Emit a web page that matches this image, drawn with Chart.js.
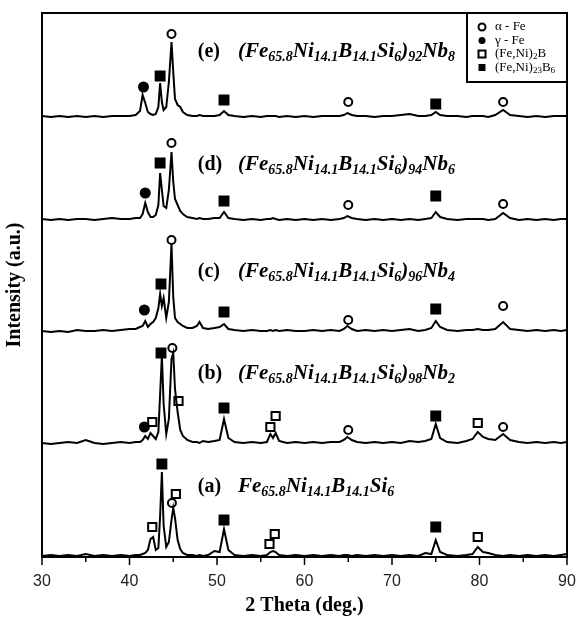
<!DOCTYPE html>
<html>
<head>
<meta charset="utf-8">
<script src="https://cdn.jsdelivr.net/npm/chart.js@4"></script>
<style>
  html, body { margin: 0; background: #fff; }
  #wrap { width: 577px; height: 621px; }
</style>
</head>
<body>
<div id="wrap"><canvas id="xrdChart"></canvas></div>
<script>
// XRD patterns, intensities in arbitrary units above each trace's own baseline
const twoTheta = [30, 31, 32, 33, 34, 35, 36, 37, 38, 39,
  40, 40.7, 41.2, 41.5, 41.8, 42.1, 42.4, 42.7, 43.0, 43.3,
  43.5, 43.7, 43.9, 44.2, 44.5, 44.8, 45.0, 45.2, 45.5, 45.8,
  46.1, 46.6, 47.2, 47.7, 48.0, 48.4, 49.0, 49.7, 50.3, 50.8,
  51.3, 52, 53, 54, 55, 55.7, 56.1, 56.4, 56.7, 57.1,
  58, 59, 60, 61, 62, 63, 64, 64.5, 64.9, 65.4,
  66, 67, 68, 69, 70, 71, 72, 73, 73.8, 74.5,
  75, 75.5, 76.3, 77.5, 78.5, 79.2, 79.8, 80.4, 81, 81.8,
  82.7, 83.5, 84.5, 85.5, 86.5, 87.5, 88.5, 89.3, 90];

const traceA = [0, 1, 0, 1, 0, 2, 0, 1, 0, 1,
  0, 1, 1, 2, 3, 6, 17, 19, 6, 8,
  40, 84, 30, 9, 14, 36, 48, 38, 16, 7,
  3, 1, 1, 0, 1, 0, 1, 5, 4, 27,
  6, 1, 0, 1, 0, 1, 4, 5, 4, 1,
  0, 1, 0, 1, 0, 1, 0, 1, 1, 0,
  1, 0, 1, 0, 1, 0, 1, 0, 3, 2,
  16, 4, 1, 0, 1, 2, 9, 4, 3, 1,
  0, 1, 0, 1, 0, 1, 0, 1, 2];

const traceB = [1, 0, 1, 2, 1, 4, 1, 0, 1, 2,
  1, 2, 2, 4, 8, 5, 11, 8, 5, 12,
  50, 88, 40, 10, 25, 85, 91, 55, 32, 14,
  8, 4, 2, 2, 1, 3, 2, 3, 4, 25,
  6, 2, 1, 2, 1, 2, 10, 6, 11, 3,
  1, 2, 1, 2, 1, 2, 2, 4, 7, 4,
  2, 1, 2, 1, 2, 1, 3, 2, 3, 5,
  20, 6, 2, 1, 3, 5, 12, 7, 5, 4,
  10, 4, 2, 1, 2, 1, 2, 1, 2];

const traceC = [1, 0, 1, 0, 2, 1, 1, 2, 1, 2,
  3, 3, 5, 6, 11, 5, 8, 10, 14, 24,
  38, 26, 34, 14, 30, 88, 35, 14, 10, 8,
  6, 4, 4, 6, 10, 4, 3, 4, 5, 8,
  3, 2, 1, 2, 1, 1, 2, 1, 2, 1,
  2, 1, 1, 2, 1, 2, 1, 3, 6, 3,
  1, 2, 1, 2, 1, 2, 3, 1, 2, 4,
  11, 5, 2, 1, 2, 2, 3, 2, 2, 3,
  10, 3, 2, 1, 2, 1, 2, 1, 2];

const traceD = [1, 0, 1, 0, 1, 1, 0, 1, 2, 1,
  1, 2, 2, 6, 17, 8, 3, 3, 5, 15,
  47, 30, 14, 12, 30, 68, 38, 21, 15, 9,
  6, 3, 2, 1, 2, 1, 1, 2, 2, 8,
  2, 1, 0, 1, 0, 1, 1, 2, 1, 0,
  1, 0, 1, 0, 1, 0, 1, 2, 4, 2,
  1, 0, 1, 0, 1, 0, 1, 0, 1, 2,
  8, 3, 1, 0, 1, 1, 1, 1, 0, 1,
  7, 2, 0, 1, 0, 1, 0, 1, 1];

const traceE = [1, 0, 1, 0, 1, 0, 1, 0, 1, 1,
  1, 2, 6, 22, 14, 5, 3, 2, 3, 10,
  34, 15, 7, 10, 35, 75, 45, 18, 12, 10,
  5, 2, 1, 1, 2, 1, 1, 1, 2, 6,
  2, 1, 0, 1, 0, 1, 1, 1, 1, 0,
  1, 0, 1, 0, 1, 1, 1, 2, 4, 2,
  1, 1, 0, 1, 1, 2, 3, 1, 1, 2,
  5, 2, 1, 1, 0, 1, 1, 1, 0, 2,
  7, 2, 1, 0, 1, 0, 1, 1, 1];

// vertical stacking offsets for (a)..(e)
const baseOffsets = [1, 113, 225, 337, 440];

// phase markers [2theta, intensity]
const alphaFe = [[44.8, 523], [65, 455], [82.7, 455], [44.8, 414], [65, 352], [82.7, 353],
  [44.8, 317], [65, 237], [82.7, 251], [44.9, 209], [65, 127], [82.7, 130], [44.85, 54]];
const gammaFe = [[41.6, 470], [41.8, 364], [41.7, 247], [41.7, 130]];
const boride2 = [[42.6, 135], [45.6, 156], [56.1, 130], [56.7, 141], [79.8, 134],
  [42.6, 30], [45.3, 63], [56.0, 13], [56.6, 23], [79.8, 20]];
const boride23 = [[43.5, 481], [50.8, 457], [75, 453], [43.5, 394], [50.8, 356], [75, 361],
  [43.6, 273], [50.8, 245], [75, 248], [43.6, 204], [50.8, 149], [75, 141],
  [43.7, 93], [50.8, 37], [75, 30]];

const sampleTags = ['(a)', '(b)', '(c)', '(d)', '(e)'];
const tagRise = [71, 72, 62, 57, 67];
// formula pieces: [text, subscript?]
const formulas = [
  [['Fe', 0], ['65.8', 1], ['Ni', 0], ['14.1', 1], ['B', 0], ['14.1', 1], ['Si', 0], ['6', 1]],
  [['(Fe', 0], ['65.8', 1], ['Ni', 0], ['14.1', 1], ['B', 0], ['14.1', 1], ['Si', 0], ['6', 1], [')', 0], ['98', 1], ['Nb', 0], ['2', 1]],
  [['(Fe', 0], ['65.8', 1], ['Ni', 0], ['14.1', 1], ['B', 0], ['14.1', 1], ['Si', 0], ['6', 1], [')', 0], ['96', 1], ['Nb', 0], ['4', 1]],
  [['(Fe', 0], ['65.8', 1], ['Ni', 0], ['14.1', 1], ['B', 0], ['14.1', 1], ['Si', 0], ['6', 1], [')', 0], ['94', 1], ['Nb', 0], ['6', 1]],
  [['(Fe', 0], ['65.8', 1], ['Ni', 0], ['14.1', 1], ['B', 0], ['14.1', 1], ['Si', 0], ['6', 1], [')', 0], ['92', 1], ['Nb', 0], ['8', 1]]
];
const legendItems = [
  ['circleOpen', [['α - Fe', 0]]],
  ['circleFilled', [['γ - Fe', 0]]],
  ['squareOpen', [['(Fe,Ni)', 0], ['2', 1], ['B', 0]]],
  ['squareFilled', [['(Fe,Ni)', 0], ['23', 1], ['B', 0], ['6', 1]]]
];

const SERIF = '"Liberation Serif", "Times New Roman", serif';

function drawPieces(ctx, pieces, x, y, mainFont, subFont, subDrop) {
  pieces.forEach(([txt, sub]) => {
    ctx.font = sub ? subFont : mainFont;
    ctx.fillText(txt, x, sub ? y + subDrop : y);
    x += ctx.measureText(txt).width;
  });
}

function drawSymbol(ctx, kind, x, y) {
  ctx.lineWidth = 2;
  ctx.strokeStyle = '#000';
  ctx.fillStyle = '#000';
  ctx.beginPath();
  if (kind.startsWith('circle')) ctx.arc(x, y, 3.5, 0, Math.PI * 2);
  else ctx.rect(x - 3.5, y - 3.5, 7, 7);
  if (kind.endsWith('Filled')) ctx.fill(); else ctx.stroke();
}

const overlay = {
  id: 'overlay',
  afterDatasetsDraw(chart) {
    const { ctx, chartArea: a, scales: { x, y } } = chart;
    ctx.save();
    ctx.strokeStyle = '#000';
    ctx.lineWidth = 2;
    ctx.strokeRect(a.left, a.top, a.right - a.left, a.bottom - a.top);

    // major + minor ticks on the bottom axis
    ctx.lineWidth = 1.5;
    const vals = x.ticks.map(t => t.value);
    vals.forEach((v, i) => {
      let px = x.getPixelForValue(v);
      ctx.beginPath(); ctx.moveTo(px, a.bottom); ctx.lineTo(px, a.bottom + 8); ctx.stroke();
      if (i < vals.length - 1) {
        px = x.getPixelForValue((v + vals[i + 1]) / 2);
        ctx.beginPath(); ctx.moveTo(px, a.bottom); ctx.lineTo(px, a.bottom + 5); ctx.stroke();
      }
    });

    // sample labels
    ctx.fillStyle = '#000';
    ctx.textBaseline = 'alphabetic';
    sampleTags.forEach((tag, i) => {
      const py = y.getPixelForValue(baseOffsets[i] + tagRise[i]) + 7;
      ctx.font = 'bold 20px ' + SERIF;
      ctx.fillText(tag, x.getPixelForValue(47.8), py);
      drawPieces(ctx, formulas[i], x.getPixelForValue(52.4), py,
        'italic bold 21px ' + SERIF, 'italic bold 14px ' + SERIF, 4);
    });

    // legend box
    const bx = 467, by = a.top, bw = a.right - bx, bh = 69;
    ctx.lineWidth = 2;
    ctx.strokeRect(bx, by, bw, bh);
    legendItems.forEach(([kind, pieces], i) => {
      const ry = by + 14 + i * 13.5;
      drawSymbol(ctx, kind, bx + 15, ry);
      ctx.fillStyle = '#000';
      ctx.textBaseline = 'middle';
      drawPieces(ctx, pieces, bx + 28, ry, '13px ' + SERIF, '9px ' + SERIF, 3);
    });
    ctx.restore();
  }
};

const lineSets = [traceA, traceB, traceC, traceD, traceE].map((t, i) => ({
  data: twoTheta.map((v, k) => ({ x: v, y: t[k] + baseOffsets[i] })),
  showLine: true,
  borderColor: '#000',
  borderWidth: 2,
  pointRadius: 0,
  tension: 0
}));

const markerSet = (pts, style, radius, filled) => ({
  data: pts.map(([px, py]) => ({ x: px, y: py })),
  showLine: false,
  pointStyle: style,
  pointRadius: radius,
  pointBorderWidth: 2,
  pointBorderColor: '#000',
  pointBackgroundColor: filled ? '#000' : '#fff'
});

new Chart(document.getElementById('xrdChart'), {
  type: 'scatter',
  data: {
    datasets: [
      ...lineSets,
      markerSet(alphaFe, 'circle', 4, false),
      markerSet(gammaFe, 'circle', 4.5, true),
      markerSet(boride2, 'rect', 5.8, false),
      markerSet(boride23, 'rect', 6.3, true)
    ]
  },
  options: {
    responsive: true,
    maintainAspectRatio: false,
    animation: false,
    layout: { padding: { top: 13, right: 10, left: 0, bottom: 0 } },
    plugins: { legend: { display: false }, tooltip: { enabled: false } },
    scales: {
      x: {
        type: 'linear',
        min: 30,
        max: 90,
        afterFit: s => { s.height = 64; s.paddingLeft = 0; s.paddingRight = 0; },
        grid: { display: false, drawTicks: false },
        border: { display: false },
        ticks: {
          stepSize: 10,
          padding: 15,
          color: '#222',
          font: { family: '"Liberation Sans", Arial, sans-serif', size: 16 }
        },
        title: {
          display: true,
          text: '2 Theta (deg.)',
          color: '#000',
          padding: { top: 3, bottom: 3 },
          font: { family: SERIF, size: 20, weight: 'bold' }
        }
      },
      y: {
        min: 0,
        max: 544,
        afterFit: s => { s.width = 42; },
        grid: { display: false, drawTicks: false },
        border: { display: false },
        ticks: { display: false },
        title: {
          display: true,
          text: 'Intensity (a.u.)',
          color: '#000',
          padding: { top: 3, bottom: 0 },
          font: { family: SERIF, size: 20, weight: 'bold' }
        }
      }
    }
  },
  plugins: [overlay]
});
</script>
</body>
</html>
